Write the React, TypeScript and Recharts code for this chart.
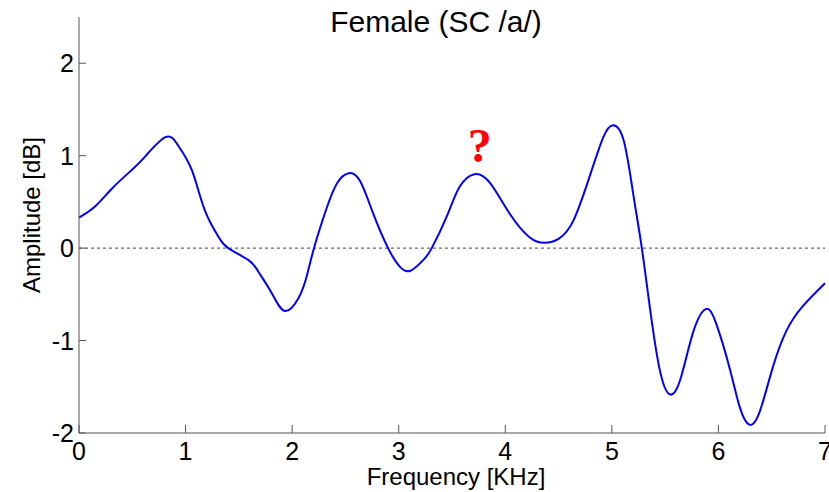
import React from "react";
import { LineChart, Line, XAxis, YAxis, ReferenceLine, ReferenceDot, Label } from "recharts";

// frequency in kHz, amplitude in dB
const freqs = [
  0, 0.15, 0.31, 0.49, 0.62, 0.81, 0.93, 1.06, 1.18, 1.31, 1.4, 1.59, 1.68, 1.81, 1.93, 2.06,
  2.14, 2.21, 2.32, 2.42, 2.53, 2.64, 2.76, 2.9, 3.01, 3.11, 3.23, 3.31, 3.45, 3.57, 3.71, 3.86,
  4.04, 4.23, 4.37, 4.5, 4.64, 4.79, 4.92, 5.01, 5.11, 5.2, 5.28, 5.36, 5.45, 5.54, 5.64, 5.76,
  5.88, 5.98, 6.11, 6.2, 6.29, 6.39, 6.51, 6.64, 6.79, 7
];
const amps = [
  0.33, 0.45, 0.645, 0.84, 0.99, 1.2, 1.11, 0.84, 0.41, 0.12, 0.0, -0.13, -0.25, -0.49, -0.68, -0.54,
  -0.29, 0.02, 0.42, 0.7, 0.81, 0.72, 0.375, 0.0, -0.2, -0.245, -0.13, 0.0, 0.34, 0.66, 0.8, 0.7,
  0.375, 0.115, 0.057, 0.1, 0.3, 0.77, 1.2, 1.33, 1.17, 0.59, 0.01, -0.67, -1.32, -1.58, -1.43, -0.92,
  -0.66, -0.82, -1.32, -1.72, -1.91, -1.76, -1.29, -0.89, -0.63, -0.38
];
const xTicks = [0, 1, 2, 3, 4, 5, 6, 7];
const yTicks = [-2, -1, 0, 1, 2];
const title = "Female (SC /a/)";
const marker = { x: 3.76, y: 0.93, text: "?" };

const data = freqs.map((f, i) => ({ f, a: amps[i] }));

const FONT = "'Liberation Sans', Arial, sans-serif";
const AXIS = "#555";

function XTick(props: any) {
  const { x, y, payload } = props;
  return (
    <g>
      <line x1={x} y1={y} x2={x} y2={y - 8} stroke={AXIS} strokeWidth={1} />
      <text x={x} y={y + 27} textAnchor="middle" fontSize={25} fontFamily={FONT} fill="#000">
        {payload.value}
      </text>
    </g>
  );
}

function YTick(props: any) {
  const { x, y, payload } = props;
  return (
    <g>
      <line x1={x} y1={y} x2={x + 7} y2={y} stroke={AXIS} strokeWidth={1} />
      <text x={x - 5} y={y + 9} textAnchor="end" fontSize={25} fontFamily={FONT} fill="#000">
        {payload.value}
      </text>
    </g>
  );
}

export default function App() {
  return (
    <div style={{ position: "absolute", left: 0, top: 0, width: 829, height: 492, background: "#fff" }}>
      <div
        style={{
          position: "absolute",
          left: 0,
          width: 872,
          top: 5,
          textAlign: "center",
          fontFamily: FONT,
          fontSize: 30,
          color: "#000",
          lineHeight: "34px"
        }}
      >
        {title}
      </div>
      <LineChart width={829} height={492} data={data} margin={{ top: 17, right: 4, bottom: 0, left: 0 }}>
        <XAxis
          dataKey="f"
          type="number"
          domain={[0, 7]}
          ticks={xTicks}
          tickSize={0}
          tickMargin={0}
          height={59}
          stroke={AXIS}
          tick={<XTick />}
        >
          <Label
            content={(p: any) => {
              const vb = p.viewBox;
              return (
                <text x={vb.x + vb.width / 2 + 4} y={vb.y + 52} textAnchor="middle" fontSize={24} fontFamily={FONT} fill="#000">
                  Frequency [KHz]
                </text>
              );
            }}
          />
        </XAxis>
        <YAxis
          type="number"
          domain={[-2, 2.5]}
          ticks={yTicks}
          tickSize={0}
          tickMargin={0}
          width={79}
          stroke={AXIS}
          tick={<YTick />}
        >
          <Label
            content={(p: any) => {
              const vb = p.viewBox;
              const cx = vb.x + 40;
              const cy = vb.y + vb.height / 2 - 10;
              return (
                <text
                  x={cx}
                  y={cy}
                  transform={`rotate(-90 ${cx} ${cy})`}
                  textAnchor="middle"
                  fontSize={24}
                  fontFamily={FONT}
                  fill="#000"
                >
                  Amplitude [dB]
                </text>
              );
            }}
          />
        </YAxis>
        <ReferenceLine y={0} stroke="#444" strokeDasharray="3 3" strokeWidth={1} />
        <Line
          type="natural"
          dataKey="a"
          stroke="#0000ff"
          strokeWidth={2}
          dot={false}
          isAnimationActive={false}
        />
        <ReferenceDot
          x={marker.x}
          y={marker.y}
          r={0}
          fill="none"
          stroke="none"
          label={(p: any) => {
            const vb = p.viewBox;
            return (
              <text
                x={vb.x + (vb.width || 0) / 2}
                y={vb.y + (vb.height || 0) / 2}
                textAnchor="middle"
                fontSize={48}
                fontWeight="bold"
                fontFamily="'Liberation Serif', 'Times New Roman', serif"
                fill="#ff0000"
              >
                {marker.text}
              </text>
            );
          }}
        />
      </LineChart>
    </div>
  );
}
